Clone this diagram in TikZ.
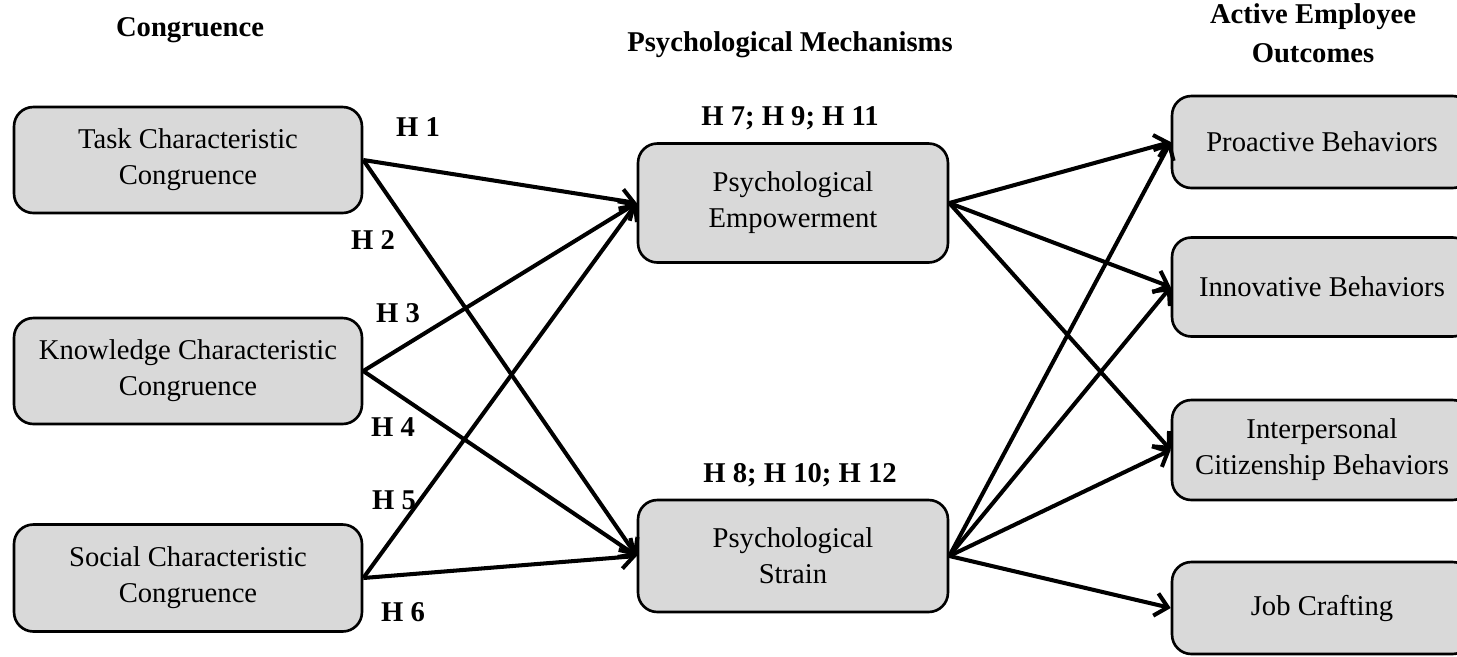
\documentclass[tikz,border=0pt]{standalone}
\usepackage{fontspec}
\setmainfont{Liberation Serif}
\usetikzlibrary{arrows.meta}
\tikzset{>={Straight Barb[length=7pt,width=13pt,line width=2.3pt]}}
\tikzset{box/.style={draw, line width=1.5pt, rounded corners=11pt, fill=black!15,
  align=center, inner sep=0pt, font=\fontsize{16.3}{20.5}\selectfont},
  hyp/.style={font=\fontsize{16.3}{22}\selectfont\bfseries, align=center},
  link/.style={->, line width=2.3pt}}

\begin{document}
\begin{tikzpicture}[x=0.02cm,y=-0.02cm]
\useasboundingbox (0,0) rectangle (1457,656);
% headings
\node[hyp] (hcong) at (190,30) {Congruence};
\node[hyp] (hmech) at (790,45) {Psychological Mechanisms};
\node[hyp] (hout) at (1313,33) {Active Employee\\Outcomes};
% congruence
\node[box, minimum width=6.96cm, minimum height=2.12cm] (task) at (188,160) {Task Characteristic\\Congruence};
\node[box, minimum width=6.96cm, minimum height=2.12cm] (know) at (188,371) {Knowledge Characteristic\\Congruence};
\node[box, minimum width=6.96cm, minimum height=2.14cm] (soc) at (188,578) {Social Characteristic\\Congruence};
% mechanisms
\node[box, minimum width=6.2cm, minimum height=2.38cm] (emp) at (793,203) {Psychological\\Empowerment};
\node[box, minimum width=6.2cm, minimum height=2.24cm] (strain) at (793,556) {Psychological\\Strain};
% outcomes
\node[box, minimum width=6.0cm, minimum height=1.84cm] (pro) at (1322,142) {Proactive Behaviors};
\node[box, minimum width=6.0cm, minimum height=1.98cm] (inno) at (1322,287) {Innovative Behaviors};
\node[box, minimum width=6.0cm, minimum height=2.0cm] (inter) at (1322,450) {Interpersonal\\Citizenship Behaviors};
\node[box, minimum width=6.0cm, minimum height=1.84cm] (job) at (1322,608) {Job Crafting};
% hypotheses
\node[hyp] (h1) at (418,127) {H 1};
\node[hyp] (h2) at (373,240) {H 2};
\node[hyp] (h3) at (398,313) {H 3};
\node[hyp] (h4) at (393,427) {H 4};
\node[hyp] (h5) at (394,500) {H 5};
\node[hyp] (h6) at (403,612) {H 6};
\node[hyp] (h7) at (790,118) {H 7; H 9; H 11};
\node[hyp] (h8) at (800,475) {H 8; H 10; H 12};
% paths
\foreach \a in {task,know,soc}
  \foreach \b in {emp,strain}
    \draw[link] (\a.east) -- (\b.west);
\foreach \b in {pro,inno,inter}
  \draw[link] (emp.east) -- (\b.west);
\foreach \b in {pro,inno,inter,job}
  \draw[link] (strain.east) -- (\b.west);
\end{tikzpicture}
\end{document}
